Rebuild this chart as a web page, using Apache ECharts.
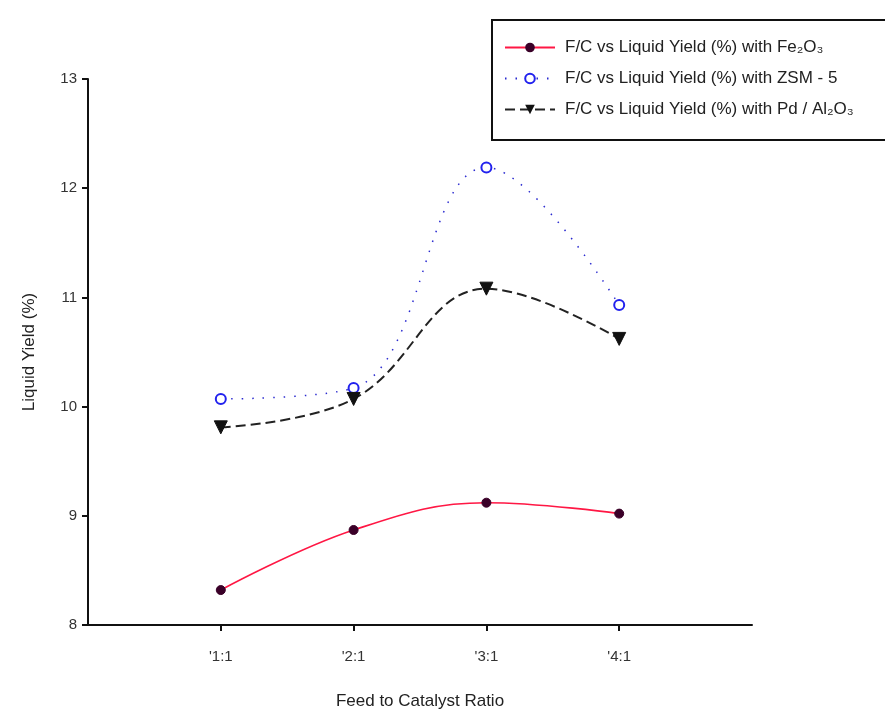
<!DOCTYPE html>
<html>
<head>
<meta charset="utf-8">
<script src="https://cdn.jsdelivr.net/npm/echarts@6/dist/echarts.min.js"></script>
<style>
  html, body { margin: 0; padding: 0; background: #fff; }
  #chart { width: 885px; height: 715px; }
</style>
</head>
<body>
<div id="chart"></div>
<script>
// ---- data ----
const categories = ["'1:1", "'2:1", "'3:1", "'4:1"];
const fe2o3 = [8.32, 8.87, 9.12, 9.02];
const zsm5 = [10.07, 10.17, 12.19, 10.93];
const pdAl2o3 = [9.81, 10.07, 11.08, 10.62];
const seriesNames = [
  'F/C vs Liquid Yield (%) with Fe₂O₃',
  'F/C vs Liquid Yield (%) with ZSM - 5',
  'F/C vs Liquid Yield (%) with Pd / Al₂O₃'
];
const yTicks = [8, 9, 10, 11, 12, 13];

// axis with an empty slot on each side so the 4 ratios sit inside the frame
const axisCats = [''].concat(categories, ['']);
const pad = arr => [null].concat(arr, [null]);

const chart = echarts.init(document.getElementById('chart'));
const font = 'Liberation Sans, Arial, sans-serif';

chart.setOption({
  animation: false,
  backgroundColor: '#ffffff',
  grid: { left: 88, right: 133, top: 79, bottom: 86, containLabel: false },
  legend: {
    orient: 'vertical',
    left: 492,
    top: 20,
    padding: [19, 80, 22, 12],
    itemGap: 14,
    itemWidth: 50,
    itemHeight: 12,
    borderColor: '#111',
    borderWidth: 2,
    backgroundColor: '#fff',
    textStyle: { fontFamily: font, fontSize: 17, color: '#222', padding: [0, 0, 0, 5] },
    data: seriesNames
  },
  xAxis: {
    type: 'category',
    data: axisCats,
    boundaryGap: false,
    name: 'Feed to Catalyst Ratio',
    nameLocation: 'middle',
    nameGap: 68,
    nameTextStyle: { fontFamily: font, fontSize: 17, color: '#222' },
    axisLine: { lineStyle: { color: '#111', width: 2 } },
    axisTick: {
      show: true,
      length: 6,
      inside: false,
      lineStyle: { color: '#111', width: 2 },
      interval: (idx) => idx > 0 && idx < axisCats.length - 1
    },
    axisLabel: {
      fontFamily: font, fontSize: 15, color: '#333', margin: 24,
      interval: 0
    },
    splitLine: { show: false }
  },
  yAxis: {
    type: 'value',
    min: yTicks[0],
    max: yTicks[yTicks.length - 1],
    interval: 1,
    name: 'Liquid Yield (%)',
    nameLocation: 'middle',
    nameRotate: 90,
    nameGap: 50,
    nameTextStyle: { fontFamily: font, fontSize: 17, color: '#222' },
    axisLine: { show: true, lineStyle: { color: '#111', width: 2 } },
    axisTick: { show: true, length: 6, inside: false, lineStyle: { color: '#111', width: 2 } },
    axisLabel: { fontFamily: font, fontSize: 15, color: '#333', margin: 11 },
    splitLine: { show: false }
  },
  series: [
    {
      name: seriesNames[0],
      type: 'line',
      data: pad(fe2o3),
      smooth: 0.4,
      symbol: 'circle',
      symbolSize: 9,
      itemStyle: { color: '#3a0028', borderColor: '#3a0028' },
      lineStyle: { color: '#ff1744', width: 1.6 },
      z: 3
    },
    {
      name: seriesNames[1],
      type: 'line',
      data: pad(zsm5),
      smooth: 0.4,
      symbol: 'circle',
      symbolSize: 10,
      itemStyle: { color: '#ffffff', borderColor: '#2222ee', borderWidth: 2 },
      lineStyle: { color: '#2a2ad0', width: 1.5, type: [1.5, 9] },
      z: 2
    },
    {
      name: seriesNames[2],
      type: 'line',
      data: pad(pdAl2o3),
      smooth: 0.4,
      symbol: 'triangle',
      symbolRotate: 180,
      symbolSize: 13,
      itemStyle: { color: '#111111', borderColor: '#111111' },
      lineStyle: { color: '#222222', width: 2, type: [10, 5] },
      z: 4
    }
  ]
});
</script>
</body>
</html>
